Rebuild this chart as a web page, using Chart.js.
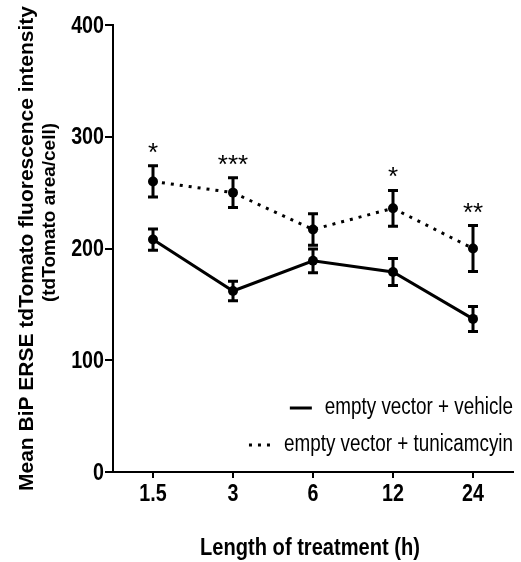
<!DOCTYPE html>
<html>
<head>
<meta charset="utf-8">
<script src="https://cdn.jsdelivr.net/npm/chart.js@4.4.1/dist/chart.umd.min.js"></script>
<style>
  html, body { margin: 0; padding: 0; background: #ffffff; }
  #wrap { width: 521px; height: 562px; position: relative; }
</style>
</head>
<body>
<div id="wrap"><canvas id="c" width="521" height="562"></canvas></div>
<script>
// ---- data ----
const categories = ['1.5', '3', '6', '12', '24'];
const vehicleMean = [208, 162, 189, 179, 137];
const vehicleSem = [9.5, 8.7, 10.6, 12, 11.2];
const tunicMean = [260, 250, 217, 236, 200];
const tunicSem = [14, 13.4, 14, 16, 20.5];
const significance = ['*', '***', '', '*', '**'];
const yTickValues = [0, 100, 200, 300, 400];
const seriesLabels = ['empty vector + vehicle', 'empty vector + tunicamcyin'];
const xTitle = 'Length of treatment (h)';
const yTitleLines = ['Mean BiP ERSE tdTomato fluorescence intensity', '(tdTomato area/cell)'];

const SANS = "'Liberation Sans', Arial, sans-serif";
const NARROW_SCALE = 0.82;

function narrowText(ctx, text, x, y, align) {
  ctx.save();
  ctx.translate(x, y);
  ctx.scale(NARROW_SCALE, 1);
  ctx.textAlign = align;
  ctx.fillText(text, 0, 0);
  ctx.restore();
}

const errorBarPlugin = {
  id: 'errorBars',
  afterDatasetsDraw(chart) {
    const ctx = chart.ctx;
    const y = chart.scales.y;
    const x = chart.scales.x;
    ctx.save();
    ctx.strokeStyle = '#000';
    ctx.lineWidth = 3;
    ctx.setLineDash([]);
    chart.data.datasets.forEach((ds) => {
      ds.data.forEach((v, i) => {
        const e = ds.sem[i];
        const px = x.getPixelForValue(i);
        const top = y.getPixelForValue(v + e);
        const bot = y.getPixelForValue(v - e);
        ctx.beginPath();
        ctx.moveTo(px, top);
        ctx.lineTo(px, bot);
        ctx.moveTo(px - 5, top);
        ctx.lineTo(px + 5, top);
        ctx.moveTo(px - 5, bot);
        ctx.lineTo(px + 5, bot);
        ctx.stroke();
      });
    });
    // significance stars above tunicamycin upper error bar
    const ds = chart.data.datasets[1];
    ctx.fillStyle = '#000';
    ctx.font = "26px " + SANS;
    ctx.textAlign = 'center';
    ctx.textBaseline = 'alphabetic';
    significance.forEach((s, i) => {
      if (!s) return;
      const px = x.getPixelForValue(i);
      const top = y.getPixelForValue(ds.data[i] + ds.sem[i]);
      ctx.fillText(s, px, top - 5);
    });
    ctx.restore();
  }
};

const labelsPlugin = {
  id: 'labelsTitles',
  afterDraw(chart) {
    const ctx = chart.ctx;
    const a = chart.chartArea;
    const xs = chart.scales.x;
    const ys = chart.scales.y;
    ctx.save();
    ctx.fillStyle = '#000';
    ctx.strokeStyle = '#000';
    // tick labels (condensed bold)
    ctx.font = "bold 24px " + SANS;
    ctx.textBaseline = 'middle';
    ys.ticks.forEach(t => {
      narrowText(ctx, String(t.value), a.left - 9, ys.getPixelForValue(t.value) + 1, 'right');
    });
    xs.getLabels().forEach((lab, i) => {
      narrowText(ctx, lab, xs.getPixelForValue(i), a.bottom + 22, 'center');
    });
    // legend
    ctx.font = "23px " + SANS;
    const rows = [a.bottom - 64, a.bottom - 27];
    chart.data.datasets.forEach((ds, i) => {
      const yy = rows[i];
      const tx = a.right;
      narrowText(ctx, ds.label, tx, yy, 'right');
      const w = ctx.measureText(ds.label).width * NARROW_SCALE;
      const sEnd = tx - w - 13;
      ctx.lineWidth = 3;
      ctx.setLineDash(ds.borderDash || []);
      ctx.beginPath();
      ctx.moveTo(sEnd - 22, yy);
      ctx.lineTo(sEnd, yy);
      ctx.stroke();
    });
    ctx.setLineDash([]);
    // x title
    ctx.font = "bold 24.5px " + SANS;
    narrowText(ctx, xTitle, 310, 548, 'center');
    // y title
    const cy = (a.top + a.bottom) / 2;
    ctx.translate(0, cy);
    ctx.rotate(-Math.PI / 2);
    ctx.textAlign = 'center';
    ctx.textBaseline = 'alphabetic';
    ctx.font = "bold 21px " + SANS;
    ctx.fillText(yTitleLines[0], 0, 33);
    ctx.font = "bold 19px " + SANS;
    ctx.fillText(yTitleLines[1], 36, 55);
    ctx.restore();
  }
};

new Chart(document.getElementById('c'), {
  type: 'line',
  data: {
    labels: categories,
    datasets: [
      {
        label: seriesLabels[0],
        data: vehicleMean,
        sem: vehicleSem,
        borderColor: '#000',
        backgroundColor: '#000',
        borderWidth: 3,
        pointRadius: 5,
        pointBackgroundColor: '#000',
        pointBorderWidth: 0,
        tension: 0
      },
      {
        label: seriesLabels[1],
        data: tunicMean,
        sem: tunicSem,
        borderColor: '#000',
        backgroundColor: '#000',
        borderWidth: 3,
        borderDash: [3, 6],
        pointRadius: 5,
        pointBackgroundColor: '#000',
        pointBorderWidth: 0,
        tension: 0
      }
    ]
  },
  options: {
    responsive: false,
    animation: false,
    devicePixelRatio: 1,
    layout: { padding: { top: 25, right: 8, left: 0, bottom: 0 } },
    plugins: { legend: { display: false }, tooltip: { enabled: false } },
    scales: {
      x: {
        type: 'category',
        offset: true,
        afterFit(s) { s.height = 90; },
        grid: { display: true, drawOnChartArea: false, drawTicks: true, tickLength: 6, color: '#000', lineWidth: 2, offset: false },
        border: { display: true, color: '#000', width: 2 },
        ticks: { display: false }
      },
      y: {
        min: 0,
        max: 400,
        afterFit(s) { s.width = 113; },
        afterBuildTicks(s) { s.ticks = yTickValues.map(v => ({ value: v })); },
        grid: { display: true, drawOnChartArea: false, drawTicks: true, tickLength: 8, color: '#000', lineWidth: 2 },
        border: { display: true, color: '#000', width: 2 },
        ticks: { display: false }
      }
    }
  },
  plugins: [errorBarPlugin, labelsPlugin]
});
</script>
</body>
</html>
